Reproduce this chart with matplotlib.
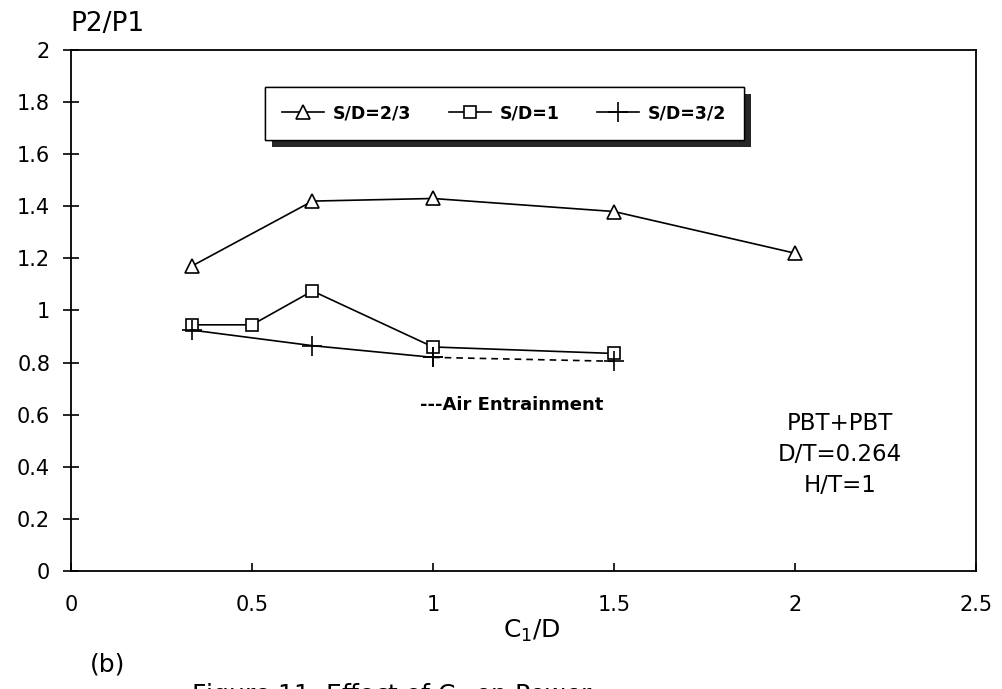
import matplotlib
matplotlib.use("Agg")
import matplotlib.pyplot as plt
import matplotlib.patheffects as pe

# data
x_23 = [0.333, 0.667, 1.0, 1.5, 2.0]
y_23 = [1.17, 1.42, 1.43, 1.38, 1.22]

x_1 = [0.333, 0.5, 0.667, 1.0, 1.5]
y_1 = [0.945, 0.945, 1.075, 0.86, 0.835]

x_32 = [0.333, 0.667, 1.0]
y_32 = [0.925, 0.865, 0.82]

x_air = [1.0, 1.5]
y_air = [0.82, 0.805]

xticks = [0, 0.5, 1, 1.5, 2, 2.5]
xlabels = ["0", "0.5", "1", "1.5", "2", "2.5"]
yticks = [0, 0.2, 0.4, 0.6, 0.8, 1.0, 1.2, 1.4, 1.6, 1.8, 2.0]
ylabels = ["0", "0.2", "0.4", "0.6", "0.8", "1", "1.2", "1.4", "1.6", "1.8", "2"]

plt.rcParams['font.family'] = ['DejaVu Sans']

fig = plt.figure(figsize=(10.03, 6.89), dpi=100)
ax = fig.add_axes([0.0708, 0.1713, 0.9022, 0.7561])

ax.plot(x_23, y_23, color="k", lw=1.2, marker="^", ms=10, mfc="white", mec="k", mew=1.2, label="S/D=2/3")
ax.plot(x_1, y_1, color="k", lw=1.2, marker="s", ms=9, mfc="white", mec="k", mew=1.2, label="S/D=1")
ax.plot(x_32, y_32, color="k", lw=1.2, marker="+", ms=14, mew=1.2, label="S/D=3/2")
ax.plot(x_air, y_air, color="k", lw=1.2, ls=(0, (4, 3)), marker="+", ms=14, mew=1.2)

ax.set_xlim(0, 2.5)
ax.set_ylim(0, 2)
ax.set_xticks(xticks)
ax.set_xticklabels(xlabels)
ax.set_yticks(yticks)
ax.set_yticklabels(ylabels)
ax.tick_params(axis="y", direction="inout", length=12, width=1.2, labelsize=15, pad=9)
ax.tick_params(axis="x", direction="in", length=6, width=1.2, labelsize=15, pad=17)
for s in ax.spines.values():
    s.set_linewidth(1.3)

leg = ax.legend(ncol=3, loc="upper left", bbox_to_anchor=(0.214, 0.929), borderaxespad=0,
                frameon=True, fancybox=False, edgecolor="k", framealpha=1,
                prop={"family": "DejaVu Sans", "weight": "bold", "size": 12.5},
                handlelength=2.4, columnspacing=2.2, borderpad=1.0, handletextpad=0.5)
leg.get_frame().set_linewidth(1.0)
leg.get_frame().set_path_effects([
    pe.withSimplePatchShadow(offset=(5, -5), shadow_rgbFace="k", alpha=0.85),
    pe.Normal()])

ax.text(0.386, 0.319, "---Air Entrainment", fontsize=13, fontweight="bold",
        ha="left", va="center", transform=ax.transAxes)
ax.text(0.85, 0.223, "PBT+PBT\nD/T=0.264\nH/T=1", fontsize=16.5,
        ha="center", va="center", linespacing=1.45, transform=ax.transAxes)

fig.text(0.07, 0.965, "P2/P1", fontsize=19, ha="left", va="center")
fig.text(0.53, 0.085, r"C$_\mathregular{1}$/D", fontsize=18, ha="center", va="center")
fig.text(0.09, 0.035, "(b)", fontsize=18, ha="left", va="center")
fig.text(0.19, -0.008, r"Figure 11. Effect of C$_\mathregular{1}$ on Power", fontsize=18,
         ha="left", va="center")

fig.savefig("out.png", dpi=100)
